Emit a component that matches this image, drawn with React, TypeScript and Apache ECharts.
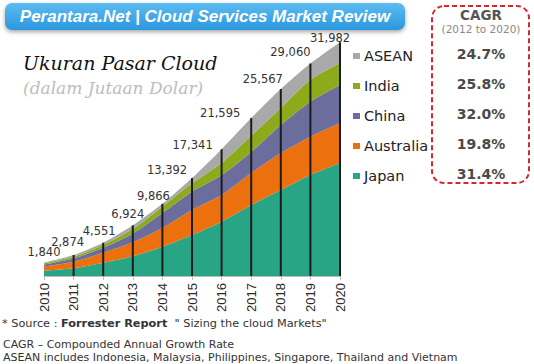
import React, { useEffect, useRef } from "react";
import * as echarts from "echarts";

const years = ["2010", "2011", "2012", "2013", "2014", "2015", "2016", "2017", "2018", "2019", "2020"];
const japan = [720, 1050, 1800, 2700, 4000, 5600, 7420, 9700, 11760, 13810, 15450];
const australia = [560, 900, 1370, 1900, 2560, 3420, 3650, 4370, 5060, 5240, 5470];
const china = [280, 450, 680, 1200, 2050, 2500, 2730, 2900, 3830, 4785, 5190];
const india = [160, 270, 400, 650, 870, 1150, 1640, 2200, 2320, 3000, 3010];
const asean = [120, 204, 301, 474, 386, 722, 1901, 2425, 2597, 2225, 2862];
const totals = [1840, 2874, 4551, 6924, 9866, 13392, 17341, 21595, 25567, 29060, 31982];
const legendNames = ["ASEAN", "India", "China", "Australia", "Japan"];
const cagrValues = [24.7, 25.8, 32.0, 19.8, 31.4];

// label nudges (layout only)
const labelNudge: [number, number][] = [
  [0, -5], [-6, -7], [-4, -6], [-5, -5], [-9, -2], [-25, -2],
  [-29, 2], [-31, 1], [-18, -4], [-20, -5], [-10, 2],
];

const colors: Record<string, string> = {
  Japan: "#28a585",
  Australia: "#ec700d",
  China: "#6b6d9d",
  India: "#8daa1b",
  ASEAN: "#a9a9a9",
};

const fmt = (v: number) => v.toString().replace(/\B(?=(\d{3})+(?!\d))/g, ",");

export default function App() {
  const ref = useRef<HTMLDivElement>(null);
  useEffect(() => {
    if (!ref.current) return;
    const chart = echarts.init(ref.current, null, { renderer: "svg" });
    const seriesData: [string, number[]][] = [
      ["Japan", japan],
      ["Australia", australia],
      ["China", china],
      ["India", india],
      ["ASEAN", asean],
    ];
    const legendRowY = [54.3, 84.3, 114.3, 144.3, 174.3];
    const sans = "'DejaVu Sans', sans-serif";
    const arial = "'Liberation Sans', Arial, sans-serif";
    chart.setOption({
      animation: false,
      backgroundColor: "#ffffff",
      grid: { left: 44, right: 194, top: 42, bottom: 88, containLabel: false },
      legend: {
        orient: "vertical",
        left: 348,
        top: 43,
        itemWidth: 7,
        itemHeight: 6,
        itemGap: 14,
        icon: "rect",
        data: legendNames,
        textStyle: { fontFamily: sans, fontSize: 14.5, color: "#222", lineHeight: 16, padding: [0, 0, 0, -1] },
      },
      xAxis: {
        type: "category",
        data: years,
        boundaryGap: false,
        axisLine: { lineStyle: { color: "#bdbdbd", width: 1 } },
        axisTick: { show: true, length: 4, lineStyle: { color: "#bdbdbd" } },
        axisLabel: { rotate: 90, fontSize: 13, color: "#2a2a2a", fontFamily: arial, margin: 7 },
      },
      yAxis: { type: "value", min: 0, max: 32000, show: false, splitLine: { show: false } },
      series: [
        ...seriesData.map(([name, data]) => ({
          name,
          type: "line",
          stack: "total",
          smooth: 0.25,
          symbol: "none",
          data,
          lineStyle: { width: 0 },
          itemStyle: { color: colors[name] },
          areaStyle: { color: colors[name], opacity: 1 },
          z: 2,
        })),
        {
          name: "Total",
          type: "bar",
          barWidth: 2,
          z: 5,
          data: totals.map((v, i) => ({
            value: v,
            itemStyle: { color: i === 0 ? "rgba(0,0,0,0)" : "#1c1c1c" },
            label: { offset: labelNudge[i] },
          })),
          label: {
            show: true,
            position: "top",
            distance: 0,
            fontFamily: sans,
            fontSize: 11.5,
            color: "#333",
            formatter: (p: any) => fmt(p.value),
          },
        },
      ],
      graphic: [
        {
          type: "rect",
          shape: { x: 5, y: 3, width: 400, height: 27, r: 7 },
          style: {
            fill: new echarts.graphic.LinearGradient(0, 0, 0, 1, [
              { offset: 0, color: "#5cbcf2" },
              { offset: 1, color: "#2b97dd" },
            ]),
            shadowBlur: 4,
            shadowOffsetY: 2,
            shadowColor: "rgba(0,0,0,0.35)",
          },
          z: 10,
        },
        {
          type: "text",
          x: 205,
          y: 16.5,
          z: 11,
          style: {
            text: "Perantara.Net | Cloud Services Market Review",
            fill: "#ffffff",
            font: `italic bold 17px ${arial}`,
            textAlign: "center",
            textVerticalAlign: "middle",
          },
        },
        {
          type: "text",
          x: 23,
          y: 63,
          z: 11,
          style: {
            text: "Ukuran Pasar Cloud",
            fill: "#111",
            font: "italic 19px 'DejaVu Serif', serif",
            textVerticalAlign: "middle",
          },
        },
        {
          type: "text",
          x: 23,
          y: 88,
          z: 11,
          style: {
            text: "(dalam Jutaan Dolar)",
            fill: "#bdbdbd",
            font: "italic 17px 'DejaVu Serif', serif",
            textVerticalAlign: "middle",
          },
        },
        {
          type: "rect",
          shape: { x: 432, y: 6, width: 97, height: 177, r: 12 },
          style: { fill: "none", stroke: "#d8262c", lineWidth: 2, lineDash: [5, 3] },
          z: 10,
        },
        {
          type: "text",
          x: 481,
          y: 14.5,
          z: 11,
          style: { text: "CAGR", fill: "#555", font: `bold 13.5px ${sans}`, textAlign: "center", textVerticalAlign: "middle" },
        },
        {
          type: "text",
          x: 481,
          y: 28.5,
          z: 11,
          style: { text: "(2012 to 2020)", fill: "#888", font: `10.5px ${sans}`, textAlign: "center", textVerticalAlign: "middle" },
        },
        ...cagrValues.map((v, i) => ({
          type: "text",
          x: 481,
          y: legendRowY[i],
          z: 11,
          style: {
            text: v.toFixed(1) + "%",
            fill: "#4a4a4a",
            font: `bold 14px ${sans}`,
            textAlign: "center",
            textVerticalAlign: "middle",
          },
        })),
        {
          type: "text",
          x: 2,
          y: 323,
          z: 11,
          style: {
            text: "{n|* Source : }{b|Forrester Report}{n|  \" Sizing the cloud Markets\"}",
            textVerticalAlign: "middle",
            rich: {
              n: { font: `11.3px ${sans}`, fill: "#333" },
              b: { font: `bold 11.3px ${sans}`, fill: "#333" },
            },
          },
        },
        {
          type: "text",
          x: 3,
          y: 344,
          z: 11,
          style: { text: "CAGR – Compounded Annual Growth Rate", fill: "#333", font: `11px ${sans}`, lineHeight: 12, textVerticalAlign: "middle" },
        },
        {
          type: "text",
          x: 3,
          y: 357,
          z: 11,
          style: {
            text: "ASEAN includes Indonesia, Malaysia, Philippines, Singapore, Thailand and Vietnam",
            fill: "#333",
            font: `11px ${sans}`,
            lineHeight: 12,
            textVerticalAlign: "middle",
          },
        },
      ],
    });
    return () => chart.dispose();
  }, []);
  return <div ref={ref} style={{ position: "fixed", left: 0, top: 0, width: 534, height: 364 }} />;
}
